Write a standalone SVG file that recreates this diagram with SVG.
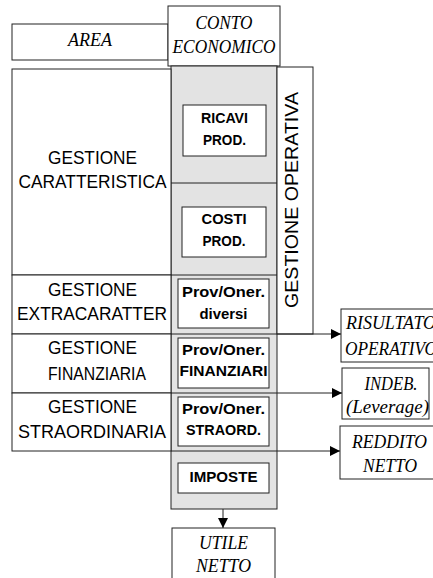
<svg xmlns="http://www.w3.org/2000/svg" width="433" height="578" viewBox="0 0 433 578">
<style>
rect{stroke:#222;stroke-width:1;fill:#fff}
.gray{fill:#e3e3e3}
.it{font-family:"Liberation Serif",serif;font-style:italic;font-size:19px;text-anchor:middle;fill:#000}
.sn{font-family:"Liberation Sans",Arial,sans-serif;font-size:18px;text-anchor:middle;fill:#000}
.bd{font-family:"Liberation Sans",Arial,sans-serif;font-weight:bold;font-size:15px;text-anchor:middle;fill:#000}
.ln{stroke:#222;stroke-width:1;fill:none}
</style>
<defs>
<marker id="ah" markerWidth="10" markerHeight="10" refX="10" refY="5" orient="auto" markerUnits="userSpaceOnUse">
<path d="M0,0 L10,5 L0,10 Z" fill="#000"/>
</marker>
</defs>
<g id="area"><rect x="12" y="24" width="156" height="36"/><text class="it" x="90" y="46" textLength="44" lengthAdjust="spacingAndGlyphs">AREA</text></g>
<g id="conto"><rect x="168" y="6" width="112" height="60"/><text class="it" x="224" y="29" textLength="57" lengthAdjust="spacingAndGlyphs">CONTO</text><text class="it" x="224" y="53" textLength="103" lengthAdjust="spacingAndGlyphs">ECONOMICO</text></g>
<g id="colonna"><rect class="gray" x="171" y="66" width="106" height="443"/>
<line class="ln" x1="171" y1="183" x2="277" y2="183"/><line class="ln" x1="171" y1="275" x2="277" y2="275"/></g>
<g id="caratteristica"><rect x="12" y="69" width="159" height="206"/><text class="sn" x="92.5" y="164" textLength="89" lengthAdjust="spacingAndGlyphs">GESTIONE</text><text class="sn" x="92.5" y="188" textLength="148" lengthAdjust="spacingAndGlyphs">CARATTERISTICA</text></g>
<g id="extra"><rect x="12" y="275" width="159" height="59"/><text class="sn" x="92.5" y="296" textLength="89" lengthAdjust="spacingAndGlyphs">GESTIONE</text><text class="sn" x="92" y="320" textLength="150" lengthAdjust="spacingAndGlyphs">EXTRACARATTER</text></g>
<g id="finanziaria"><rect x="12" y="334" width="159" height="59"/><text class="sn" x="92.5" y="354" textLength="89" lengthAdjust="spacingAndGlyphs">GESTIONE</text><text class="sn" x="97" y="380" textLength="98" lengthAdjust="spacingAndGlyphs">FINANZIARIA</text></g>
<g id="straordinaria"><rect x="12" y="393" width="159" height="58"/><text class="sn" x="92.5" y="413" textLength="89" lengthAdjust="spacingAndGlyphs">GESTIONE</text><text class="sn" x="92" y="438" textLength="148" lengthAdjust="spacingAndGlyphs">STRAORDINARIA</text></g>
<g id="operativa"><rect x="277" y="67" width="36" height="267"/><text class="sn" transform="translate(298,200) rotate(-90)" x="0" y="0" font-size="20" textLength="216" lengthAdjust="spacingAndGlyphs">GESTIONE OPERATIVA</text></g>
<g id="ricavi"><rect x="183" y="105" width="83" height="51"/><text class="bd" x="224.5" y="123" textLength="47" lengthAdjust="spacingAndGlyphs">RICAVI</text><text class="bd" x="224.5" y="145" textLength="43" lengthAdjust="spacingAndGlyphs">PROD.</text></g>
<g id="costi"><rect x="182" y="207" width="84" height="50"/><text class="bd" x="224" y="224" textLength="45" lengthAdjust="spacingAndGlyphs">COSTI</text><text class="bd" x="224" y="246" textLength="43" lengthAdjust="spacingAndGlyphs">PROD.</text></g>
<g id="diversi"><rect x="178" y="279" width="91" height="49"/><text class="bd" x="223.5" y="297" textLength="83" lengthAdjust="spacingAndGlyphs">Prov/Oner.</text><text class="bd" x="223.5" y="319" textLength="48" lengthAdjust="spacingAndGlyphs">diversi</text></g>
<g id="finanziari"><rect x="178" y="338" width="91" height="50"/><text class="bd" x="223.5" y="355" textLength="83" lengthAdjust="spacingAndGlyphs">Prov/Oner.</text><text class="bd" x="223.5" y="376" textLength="88" lengthAdjust="spacingAndGlyphs">FINANZIARI</text></g>
<g id="straord"><rect x="178" y="397" width="91" height="49"/><text class="bd" x="223.5" y="414" textLength="83" lengthAdjust="spacingAndGlyphs">Prov/Oner.</text><text class="bd" x="223.5" y="435" textLength="75" lengthAdjust="spacingAndGlyphs">STRAORD.</text></g>
<g id="imposte"><rect x="178" y="463" width="91" height="30"/><text class="bd" x="223.5" y="482" textLength="68" lengthAdjust="spacingAndGlyphs">IMPOSTE</text></g>
<g id="risultato"><rect x="341" y="309" width="104" height="53"/><text class="it" x="346" y="329" style="text-anchor:start" textLength="90" lengthAdjust="spacingAndGlyphs">RISULTATO</text><text class="it" x="345" y="355" style="text-anchor:start" textLength="92" lengthAdjust="spacingAndGlyphs">OPERATIVO</text></g>
<g id="indeb"><rect x="342" y="368" width="87" height="51"/><text class="it" x="391" y="390" textLength="53" lengthAdjust="spacingAndGlyphs">INDEB.</text><text class="it" x="387.5" y="413" textLength="83" lengthAdjust="spacingAndGlyphs">(Leverage)</text></g>
<g id="reddito"><rect x="340" y="426" width="100" height="53"/><text class="it" x="389.5" y="448" textLength="75" lengthAdjust="spacingAndGlyphs">REDDITO</text><text class="it" x="390" y="472" textLength="54" lengthAdjust="spacingAndGlyphs">NETTO</text></g>
<g id="utile"><rect x="172" y="528" width="103" height="60"/><text class="it" x="223.5" y="549" textLength="49" lengthAdjust="spacingAndGlyphs">UTILE</text><text class="it" x="223.5" y="572" textLength="55" lengthAdjust="spacingAndGlyphs">NETTO</text></g>
<g id="connectors">
<line class="ln" x1="171" y1="334" x2="341" y2="334" marker-end="url(#ah)"/>
<line class="ln" x1="171" y1="393" x2="342" y2="393" marker-end="url(#ah)"/>
<line class="ln" x1="171" y1="451" x2="340" y2="451" marker-end="url(#ah)"/>
<line class="ln" x1="223" y1="509" x2="223" y2="528" marker-end="url(#ah)"/>
</g>
</svg>
